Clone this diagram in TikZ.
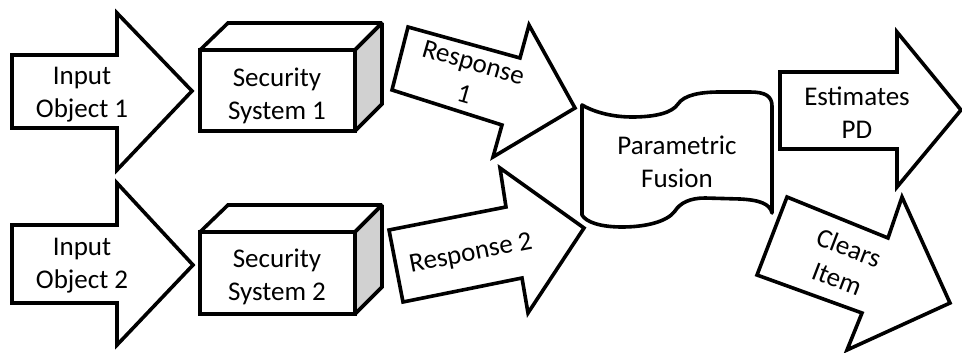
\documentclass[tikz,border=0pt]{standalone}
\usepackage{fontspec}
\setmainfont{Carlito}
\begin{document}
\begin{tikzpicture}[x=1pt,y=-1pt,
  shapeline/.style={draw=black,line width=3.6pt,line join=miter,fill=white},
  boxline/.style={shapeline,miter limit=2},
  sidefill/.style={boxline,fill=black!18},
  lbl/.style={align=center,font=\fontsize{27}{33}\selectfont,inner sep=0pt}]
\useasboundingbox (0,0) rectangle (962,353);

% input arrows
\draw[shapeline] (12,55) -- (117,55) -- (117,13) -- (192,91) -- (117,170) -- (117,128) -- (12,128) -- cycle;
\draw[shapeline] (12,225) -- (117,225) -- (117,183) -- (193,265) -- (117,345) -- (117,303) -- (12,303) -- cycle;
\node[lbl] (in1) at (82,95) {Input\\Object 1};
\node[lbl] (in2) at (82,266) {Input\\Object 2};

% security system boxes (top face, shaded side, front face)
\draw[boxline] (200,50) -- (228,23) -- (382,23) -- (355,50) -- cycle;
\draw[sidefill] (355,50) -- (382,23) -- (382,104) -- (355,131) -- cycle;
\draw[boxline] (200,50) rectangle (355,131);
\draw[boxline] (200,232) -- (228,205) -- (382,205) -- (355,232) -- cycle;
\draw[sidefill] (355,232) -- (382,205) -- (382,287) -- (355,314) -- cycle;
\draw[boxline] (200,232) rectangle (355,314);
\node[lbl] (sec1) at (277,96) {Security\\System 1};
\node[lbl] (sec2) at (277,277) {Security\\System 2};

% response arrows
\draw[shapeline] (408,27) -- (520,58) -- (529,25) -- (575,108) -- (493,157) -- (502,125) -- (392,90) -- cycle;
\draw[shapeline] (389,230) -- (506,207) -- (500,168) -- (584,228) -- (528,313) -- (522,278) -- (403,302) -- cycle;
\node[lbl,rotate=-16] (resp1) at (469,78) {Response\\1};
\node[lbl,rotate=11] (resp2) at (471,254) {Response 2};

% parametric fusion (wavy tape)
\draw[shapeline,line join=round] (582,105) .. controls (592,111) and (610,117) .. (632,117)
  .. controls (655,117) and (672,113) .. (678,104)
  .. controls (684,95) and (700,92) .. (720,92)
  -- (750,92) .. controls (765,92) and (772,96) .. (772,106)
  -- (772,213) .. controls (770,204) and (760,200) .. (740,199)
  -- (705,198) .. controls (690,198) and (680,203) .. (675,211)
  .. controls (667,222) and (645,227) .. (622,227)
  .. controls (600,227) and (586,222) .. (582,215) -- cycle;
\node[lbl] (fus) at (677,162) {Parametric\\Fusion};

% output arrows
\draw[shapeline] (780,72) -- (897,72) -- (897,32) -- (961,110) -- (897,187) -- (897,149) -- (780,149) -- cycle;
\node[lbl] (est) at (857,113) {Estimates\\PD};
\draw[shapeline] (787,197) -- (888,238) -- (902,197) -- (950,303) -- (847,350) -- (862,313) -- (757,275) -- cycle;
\node[lbl,rotate=-21] (clr) at (843,263) {Clears\\Item};
\end{tikzpicture}
\end{document}
